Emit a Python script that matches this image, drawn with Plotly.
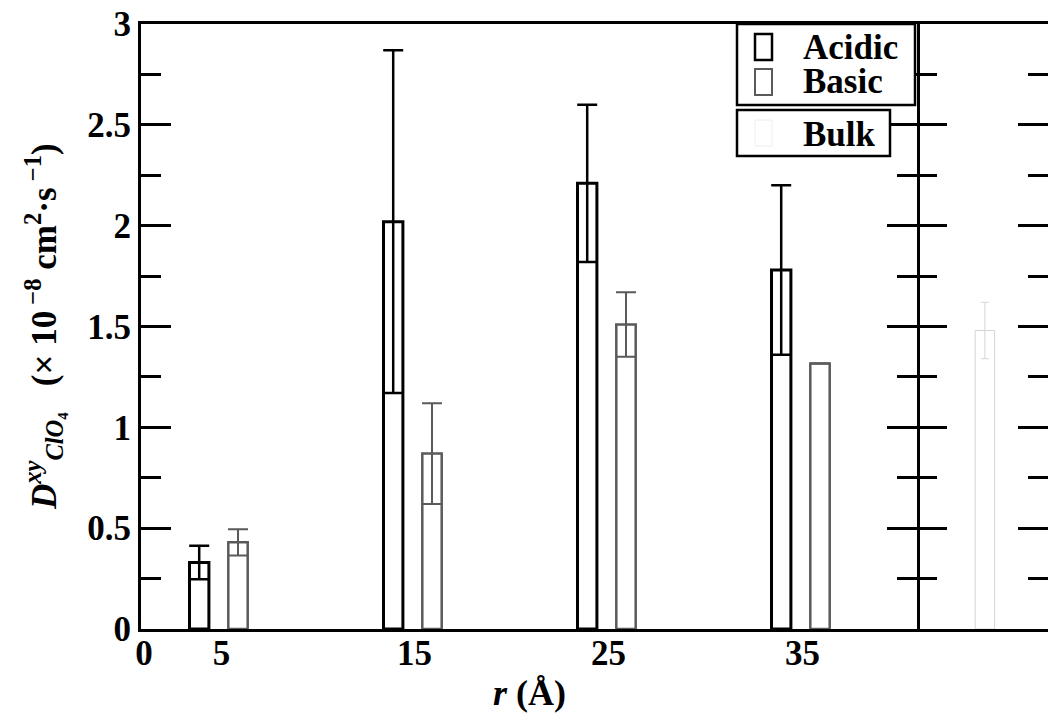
import plotly.graph_objects as go

# ---- data -------------------------------------------------------------
r_values = [5, 15, 25, 35]                 # r (Å)
acidic = [0.33, 2.02, 2.21, 1.78]
acidic_err = [0.083, 0.85, 0.39, 0.42]
basic = [0.43, 0.87, 1.51, 1.316]
basic_err = [0.065, 0.25, 0.16, 0.0]
bulk_x = [43.5]
bulk = [1.48]
bulk_err = [0.14]

x_tick_pos = [0.15, 4.15, 14.1, 24.1, 34.1]
x_tick_text = ["0", "5", "15", "25", "35"]

# ---- layout geometry (pixels) -----------------------------------------
W, H = 1048, 713
ML, MR, MT, MB = 141, 0, 24, 84
PW, PH = W - ML - MR, H - MT - MB
SPLIT = 917  # pixel column where the bulk panel begins


def px(xp):
    return (xp - ML) / PW


def py(yp):
    return (H - MB - yp) / PH


FONT = "Liberation Serif, Times New Roman, serif"
AX = dict(color="black", family=FONT, size=35, weight="bold")

fig = go.Figure()

fig.add_trace(go.Bar(
    x=[v - 2 for v in r_values], y=acidic, width=1, name="Acidic",
    marker=dict(color="white", line=dict(color="black", width=3)),
    error_y=dict(type="data", array=acidic_err, color="black", thickness=2.5, width=10),
    showlegend=False, xaxis="x", yaxis="y",
))
fig.add_trace(go.Bar(
    x=r_values, y=basic, width=1, name="Basic",
    marker=dict(color="white", line=dict(color="#5a5a5a", width=2.5)),
    error_y=dict(type="data", array=basic_err, color="#5a5a5a", thickness=2, width=10),
    showlegend=False, xaxis="x", yaxis="y",
))
fig.add_trace(go.Bar(
    x=bulk_x, y=bulk, width=1, name="Bulk",
    marker=dict(color="rgba(0,0,0,0)", line=dict(color="#d4d4d4", width=1)),
    error_y=dict(type="data", array=bulk_err, color="#d4d4d4", thickness=1, width=4),
    showlegend=False, xaxis="x2", yaxis="y2",
))

split = px(SPLIT)
yax_common = dict(
    range=[0, 3], dtick=0.5, ticks="inside", ticklen=30, tickwidth=3,
    tickcolor="black", showgrid=False, zeroline=False,
    minor=dict(dtick=0.25, ticks="inside", ticklen=20, tickwidth=3, tickcolor="black"),
)

fig.update_layout(
    width=W, height=H,
    margin=dict(l=ML, r=MR, t=MT, b=MB, pad=0),
    paper_bgcolor="white", plot_bgcolor="white",
    barmode="overlay", showlegend=False,
    xaxis=dict(
        domain=[0, split], range=[0, 40], showline=True, linewidth=3, linecolor="black",
        mirror=True, ticks="", tickmode="array", tickvals=x_tick_pos, ticktext=x_tick_text,
        tickfont=AX, ticklabelstandoff=-9, showgrid=False, zeroline=False, anchor="y",
    ),
    yaxis=dict(
        **yax_common, domain=[0, 1], anchor="x", showline=True, linewidth=3,
        linecolor="black", mirror="ticks", tickfont=AX,
    ),
    xaxis2=dict(
        domain=[split, 1], range=[40, 40 + (W - SPLIT) * 40 / (SPLIT - ML)],
        showline=True, linewidth=3, linecolor="black", mirror=True,
        ticks="", showticklabels=False, showgrid=False, zeroline=False, anchor="y2",
    ),
    yaxis2=dict(
        **yax_common, domain=[0, 1], anchor="x2", showline=False,
        mirror="ticks", showticklabels=False,
    ),
)

# axis titles
fig.add_annotation(
    text="<i>r</i> (Å)", xref="paper", yref="paper",
    x=px((ML + SPLIT) / 2), y=py(693), xanchor="center", yanchor="middle",
    showarrow=False, font=dict(family=FONT, size=36, color="black", weight="bold"),
)
fig.add_annotation(
    text="<i>D</i><sup><i>xy</i></sup><sub><i>ClO</i>₄</sub>   (× 10<sup> −8</sup> cm<sup>2</sup>·s<sup> −1</sup>)",
    xref="paper", yref="paper", x=px(43), y=py(327), textangle=-90,
    xanchor="center", yanchor="middle", showarrow=False,
    font=dict(family=FONT, size=35, color="black", weight="bold"),
)

# legend boxes
fig.add_shape(type="rect", xref="paper", yref="paper", layer="above",
              x0=px(737), x1=px(915), y0=py(105), y1=py(24),
              line=dict(color="black", width=2.5), fillcolor="white")
fig.add_shape(type="rect", xref="paper", yref="paper", layer="above",
              x0=px(737), x1=px(890), y0=py(156), y1=py(110),
              line=dict(color="black", width=2.5), fillcolor="white")
fig.add_shape(type="rect", xref="paper", yref="paper", layer="above",
              x0=px(755), x1=px(772), y0=py(60), y1=py(34),
              line=dict(color="black", width=2.5), fillcolor="white")
fig.add_shape(type="rect", xref="paper", yref="paper", layer="above",
              x0=px(755), x1=px(772), y0=py(95), y1=py(69),
              line=dict(color="#5a5a5a", width=2), fillcolor="white")
fig.add_shape(type="rect", xref="paper", yref="paper", layer="above",
              x0=px(755), x1=px(772), y0=py(146), y1=py(120),
              line=dict(color="#eeeeee", width=1), fillcolor="white")

LEG = dict(family=FONT, size=35, color="black", weight="bold")
for label, yc in [("Acidic", 47), ("Basic", 81), ("Bulk", 134)]:
    fig.add_annotation(text=label, xref="paper", yref="paper", x=px(801), y=py(yc),
                       xanchor="left", yanchor="middle", showarrow=False, font=LEG,
                       height=32)

fig.write_html("out.html")
